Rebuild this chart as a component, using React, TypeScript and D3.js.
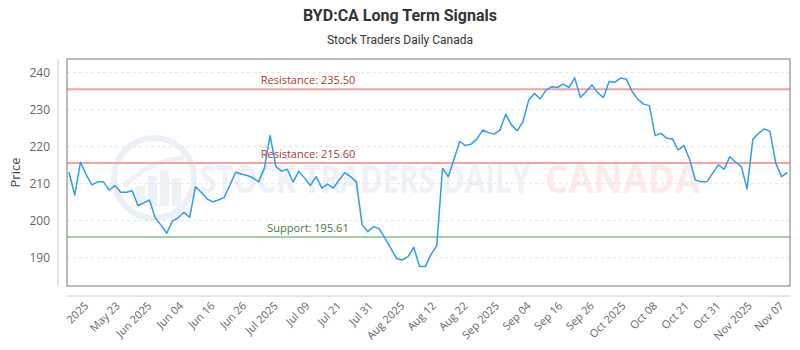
import * as d3 from "d3";
import { useEffect, useRef } from "react";

// daily closes, May 2025 -> Nov 07 2025
const prices = [
  213.1, 206.9, 215.8, 212.4, 209.7, 210.5, 210.5, 208.3, 209.5, 207.7,
  207.7, 208.1, 204.1, 204.8, 205.6, 200.8, 198.8, 196.6, 199.9, 200.8,
  202.3, 200.9, 209.2, 207.7, 205.9, 205.1, 205.6, 206.3, 209.6, 213.1,
  212.6, 212.2, 211.6, 210.5, 214.2, 223.0, 214.6, 213.4, 213.9, 210.4,
  213.4, 211.5, 209.5, 211.9, 208.8, 209.9, 208.8, 211.0, 213.0, 211.9,
  210.5, 199.0, 197.0, 198.4, 197.8, 195.2, 192.5, 189.8, 189.4, 190.3,
  192.8, 187.6, 187.6, 190.9, 193.2, 214.2, 211.9, 216.6, 221.4, 220.3,
  220.7, 222.1, 224.5, 223.8, 223.4, 224.5, 228.8, 225.9, 224.3, 226.8,
  232.6, 234.4, 232.9, 235.3, 236.2, 236.0, 236.9, 236.0, 238.6, 233.3,
  234.9, 236.7, 234.6, 233.3, 237.6, 237.4, 238.6, 238.2, 234.9, 232.8,
  231.5, 231.1, 223.0, 223.6, 222.3, 222.1, 219.1, 220.3, 216.6, 211.0,
  210.5, 210.5, 212.8, 215.1, 213.9, 217.3, 215.8, 214.6, 208.6, 222.0,
  223.6, 224.8, 224.1, 215.5, 211.9, 213.0
];

const tickLabels = [
  "2025", "May 23", "Jun 2025", "Jun 04", "Jun 16", "Jun 26", "Jul 2025",
  "Jul 09", "Jul 21", "Jul 31", "Aug 2025", "Aug 12", "Aug 22", "Sep 2025",
  "Sep 04", "Sep 16", "Sep 26", "Oct 2025", "Oct 08", "Oct 21", "Oct 31",
  "Nov 2025", "Nov 07"
];
const tickStart = 2.4;
const tickStep = 5.5;

const yTicks = [190, 200, 210, 220, 230, 240];
const resistanceLevels = [235.5, 215.6];
const supportLevels = [195.61];

const W = 800;
const H = 350;
const plot = { left: 67, top: 59, right: 790, bottom: 286 };
const font = "'Open Sans', sans-serif";

const App = () => {
  const ref = useRef(null);

  useEffect(() => {
    const svg = d3.select(ref.current);
    svg.selectAll("*").remove();

    const x = d3.scaleLinear()
      .domain([0, prices.length - 1])
      .range([plot.left + 2, plot.right - 2.7]);
    const y = d3.scaleLinear()
      .domain([182.35, 243.7])
      .range([plot.bottom, plot.top]);

    svg.append("rect").attr("width", W).attr("height", H).attr("fill", "#fff");

    // title
    svg.append("text")
      .attr("x", 400).attr("y", 21)
      .attr("text-anchor", "middle")
      .style("font-family", "Roboto, sans-serif")
      .style("font-weight", "bold")
      .style("font-size", "16px")
      .attr("fill", "#333")
      .text("BYD:CA Long Term Signals");
    svg.append("text")
      .attr("x", 400).attr("y", 44)
      .attr("text-anchor", "middle")
      .style("font-family", "Roboto, sans-serif")
      .style("font-size", "12px")
      .attr("fill", "#333")
      .text("Stock Traders Daily Canada");

    // watermark
    const wm = svg.append("g");
    wm.append("circle")
      .attr("cx", 154).attr("cy", 178).attr("r", 40)
      .attr("fill", "none").attr("stroke", "#ebeff6").attr("stroke-width", 6);
    wm.append("path")
      .attr("d", "M124,186 Q150,160 184,158")
      .attr("fill", "none").attr("stroke", "#eef1f7").attr("stroke-width", 5);
    [[140, 20], [152, 30], [164, 36], [176, 28]].forEach(([bx, bh]) => {
      wm.append("rect")
        .attr("x", bx - 4).attr("y", 206 - bh).attr("width", 9).attr("height", bh)
        .attr("fill", "#eef1f7");
    });
    wm.append("text")
      .attr("x", 200).attr("y", 193)
      .attr("textLength", 330).attr("lengthAdjust", "spacingAndGlyphs")
      .style("font-family", font).style("font-weight", "bold").style("font-size", "39px")
      .attr("fill", "#eef1f7")
      .text("STOCK TRADERS DAILY");
    wm.append("text")
      .attr("x", 545).attr("y", 193)
      .attr("textLength", 155).attr("lengthAdjust", "spacingAndGlyphs")
      .style("font-family", font).style("font-weight", "bold").style("font-size", "39px")
      .attr("fill", "#fdeaea")
      .text("CANADA");

    // grid
    svg.append("g")
      .selectAll("line")
      .data(yTicks)
      .enter()
      .append("line")
      .attr("x1", plot.left).attr("x2", plot.right)
      .attr("y1", d => y(d)).attr("y2", d => y(d))
      .attr("stroke", "#e3e3e3")
      .attr("stroke-dasharray", "3,3");

    // levels
    const levelLabelX = plot.left + (plot.right - plot.left) / 3;
    resistanceLevels.forEach(v => {
      svg.append("line")
        .attr("x1", plot.left).attr("x2", plot.right)
        .attr("y1", y(v)).attr("y2", y(v))
        .attr("stroke", "#f4a49c").attr("stroke-width", 2);
      svg.append("text")
        .attr("x", levelLabelX).attr("y", y(v) - 5)
        .attr("text-anchor", "middle")
        .style("font-family", font).style("font-size", "11px")
        .attr("fill", "#ad3a30")
        .text(`Resistance: ${v.toFixed(2)}`);
    });
    supportLevels.forEach(v => {
      svg.append("line")
        .attr("x1", plot.left).attr("x2", plot.right)
        .attr("y1", y(v)).attr("y2", y(v))
        .attr("stroke", "#9fd39f").attr("stroke-width", 2);
      svg.append("text")
        .attr("x", levelLabelX).attr("y", y(v) - 5)
        .attr("text-anchor", "middle")
        .style("font-family", font).style("font-size", "11px")
        .attr("fill", "#3d7a3d")
        .text(`Support: ${v.toFixed(2)}`);
    });

    // price line
    const line = d3.line()
      .x((d, i) => x(i))
      .y(d => y(d));
    svg.append("path")
      .datum(prices)
      .attr("d", line)
      .attr("fill", "none")
      .attr("stroke", "#2f9bf4")
      .attr("stroke-width", 1.5)
      .attr("stroke-linejoin", "round");

    // plot border
    svg.append("rect")
      .attr("x", plot.left).attr("y", plot.top)
      .attr("width", plot.right - plot.left).attr("height", plot.bottom - plot.top)
      .attr("fill", "none").attr("stroke", "#777").attr("stroke-width", 1);

    // y axis
    const yAxis = d3.axisLeft(y).tickValues(yTicks).tickSize(0).tickPadding(8);
    const gy = svg.append("g")
      .attr("transform", `translate(58, 0)`)
      .call(yAxis);
    gy.select(".domain").remove();
    gy.selectAll("text")
      .style("font-family", font).style("font-size", "12px").attr("fill", "#666");
    svg.append("line")
      .attr("x1", 58).attr("x2", 58)
      .attr("y1", plot.top).attr("y2", plot.bottom)
      .attr("stroke", "#ccc");
    svg.append("text")
      .attr("transform", `translate(20, ${(plot.top + plot.bottom) / 2}) rotate(-90)`)
      .attr("text-anchor", "middle")
      .style("font-family", font).style("font-size", "13px")
      .attr("fill", "#444")
      .text("Price");

    // x axis
    const tickPos = tickLabels.map((_, i) => tickStart + i * tickStep);
    const xAxis = d3.axisBottom(x)
      .tickValues(tickPos)
      .tickFormat((d, i) => tickLabels[i])
      .tickSize(0)
      .tickPadding(6);
    const gx = svg.append("g")
      .attr("transform", `translate(0, 296)`)
      .call(xAxis);
    gx.select(".domain").remove();
    gx.selectAll("text")
      .style("font-family", font).style("font-size", "11px").attr("fill", "#666")
      .style("text-anchor", "end")
      .attr("dx", "-0.3em")
      .attr("dy", "0.5em")
      .attr("transform", "rotate(-45)");
    svg.append("line")
      .attr("x1", plot.left).attr("x2", plot.right)
      .attr("y1", 296).attr("y2", 296)
      .attr("stroke", "#ccc");
  }, []);

  return (
    <svg ref={ref} width={W} height={H} style={{ position: "absolute", left: 0, top: 0 }}></svg>
  );
};

export default App;
